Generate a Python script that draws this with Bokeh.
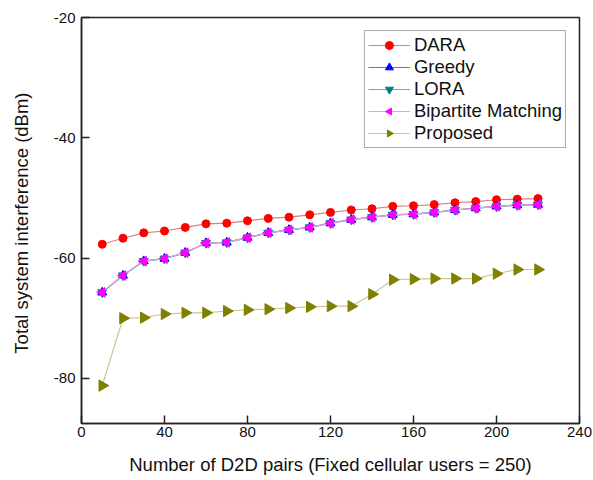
import math
from bokeh.plotting import figure
from bokeh.models import Range1d, FixedTicker, Legend, LegendItem, ColumnDataSource
from bokeh.embed import file_html
from bokeh.resources import INLINE

# Number of D2D pairs
pairs = [10, 20, 30, 40, 50, 60, 70, 80, 90, 100, 110,
         120, 130, 140, 150, 160, 170, 180, 190, 200, 210, 220]

# Total system interference (dBm) per scheme
dara = [-57.7, -56.7, -55.8, -55.5, -54.9, -54.3, -54.2, -53.8, -53.4, -53.2, -52.8,
        -52.4, -52.0, -51.8, -51.4, -51.3, -51.1, -50.8, -50.6, -50.3, -50.2, -50.1]
greedy = [-65.7, -62.9, -60.5, -60.1, -59.1, -57.5, -57.4, -56.6, -55.8, -55.3, -54.9,
          -54.2, -53.6, -53.2, -52.8, -52.7, -52.4, -52.0, -51.7, -51.4, -51.2, -51.1]
lora = [-65.7, -62.9, -60.5, -60.1, -59.1, -57.5, -57.4, -56.6, -55.8, -55.3, -54.9,
        -54.2, -53.6, -53.2, -52.8, -52.7, -52.4, -52.0, -51.7, -51.4, -51.2, -51.1]
bipartite = [-65.7, -62.9, -60.5, -60.1, -59.1, -57.5, -57.4, -56.6, -55.8, -55.3, -54.9,
             -54.2, -53.6, -53.2, -52.8, -52.7, -52.4, -52.0, -51.7, -51.4, -51.2, -51.1]
proposed = [-81.2, -70.0, -69.9, -69.3, -69.1, -69.1, -68.8, -68.6, -68.5, -68.3, -68.1,
            -68.0, -68.0, -66.0, -63.6, -63.5, -63.4, -63.4, -63.4, -62.6, -61.9, -61.9]

x_ticks = [0, 40, 80, 120, 160, 200, 240]
y_ticks = [-80, -60, -40, -20]

FONT = "Liberation Sans"

p = figure(width=593, height=480, output_backend="svg", toolbar_location=None,
           x_range=Range1d(0, 240), y_range=Range1d(-87.5, -20),
           min_border_left=81, min_border_right=14, min_border_top=17,
           min_border_bottom=57)
p.background_fill_color = "white"
p.border_fill_color = "white"
p.outline_line_color = "#222222"
p.outline_line_width = 1.5
p.grid.visible = False

for ax in (p.xaxis[0], p.yaxis[0]):
    ax.axis_line_color = "#222222"
    ax.axis_line_width = 1.5
    ax.major_tick_in = 8
    ax.major_tick_out = 0
    ax.major_tick_line_color = "#222222"
    ax.major_tick_line_width = 1.5
    ax.minor_tick_line_color = None
    ax.major_label_text_font = FONT
    ax.major_label_text_font_size = "15px"
    ax.major_label_text_color = "#111111"
    ax.axis_label_text_font = FONT
    ax.axis_label_text_font_size = "18.5px"
    ax.axis_label_text_font_style = "normal"
    ax.axis_label_text_color = "#111111"

p.xaxis.ticker = FixedTicker(ticks=x_ticks)
p.yaxis.ticker = FixedTicker(ticks=y_ticks)
p.yaxis.major_label_overrides = {t: str(t) for t in y_ticks}
p.xaxis.axis_label = "Number of D2D pairs (Fixed cellular users = 250)"
p.yaxis.axis_label = "Total  system interference (dBm)"
p.xaxis.major_label_standoff = 3
p.yaxis.major_label_standoff = 6
p.xaxis.axis_label_standoff = 14
p.yaxis.axis_label_standoff = 19

items = []


def add_series(name, ys, mcol, lcol, marker, size):
    src = ColumnDataSource(data=dict(x=pairs, y=ys))
    r_line = p.line("x", "y", source=src, line_color=lcol, line_width=1.2)
    r_pts = p.scatter("x", "y", source=src, marker=marker, size=size,
                      fill_color=mcol, line_color=mcol)
    items.append(LegendItem(label=name, renderers=[r_line, r_pts]))


def add_pointed_series(name, ys, mcol, lcol, angle, radius):
    # sideways triangles drawn as rotated regular 3-gons
    src = ColumnDataSource(data=dict(x=pairs, y=ys))
    r_line = p.line("x", "y", source=src, line_color=lcol, line_width=1.2)
    r_pts = p.ngon("x", "y", source=src, radius=radius, radius_units="screen", n=3,
                   angle=angle, fill_color=mcol, line_color=mcol)
    items.append(LegendItem(label=name, renderers=[r_line, r_pts]))


add_series("DARA", dara, "#ff0000", "#d88080", "circle", 8)
add_series("Greedy", greedy, "#0000ff", "#7070b8", "triangle", 9)
add_series("LORA", lora, "#008080", "#60b0b0", "inverted_triangle", 9)
add_pointed_series("Bipartite Matching", bipartite, "#ff00ff", "#e0a0e0", math.pi / 2, 5.5)
add_pointed_series("Proposed", proposed, "#808000", "#c8c890", -math.pi / 2, 6.5)

legend = Legend(items=items, location="top_right")
legend.label_text_font = FONT
legend.label_text_font_size = "18.5px"
legend.label_text_color = "#111111"
legend.glyph_width = 42
legend.glyph_height = 20
legend.label_height = 20
legend.spacing = 0
legend.padding = 3
legend.margin = 13
legend.label_standoff = 4
legend.border_line_color = "#555555"
legend.border_line_width = 1
legend.background_fill_alpha = 1
p.add_layout(legend)

open("out.html", "w").write(file_html(p, INLINE))
